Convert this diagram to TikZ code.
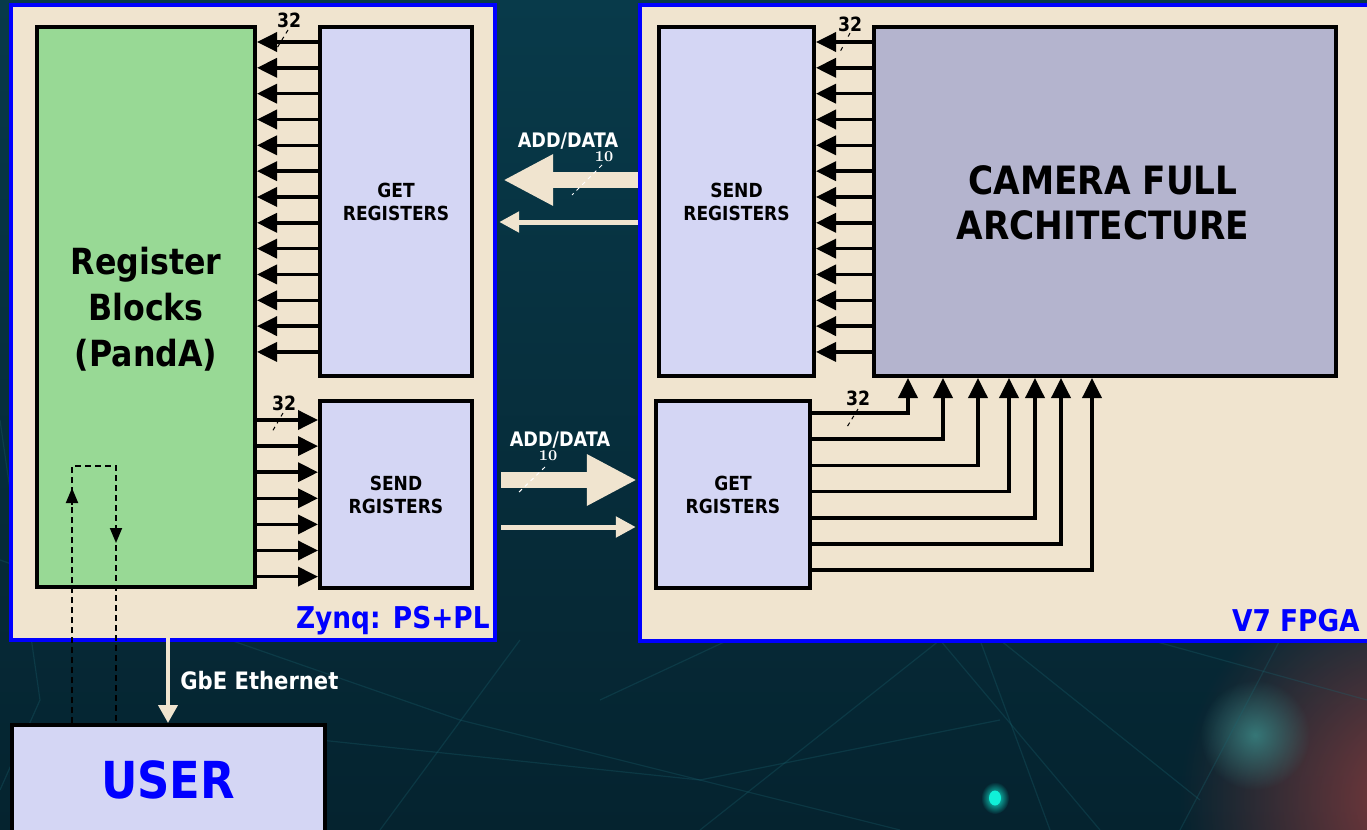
\documentclass[tikz,border=0pt]{standalone}
\usepackage{fontspec}
\newfontfamily\tah{DejaVu Sans}[FakeStretch=0.88]
\usetikzlibrary{arrows.meta,fit,fadings,calc}
\tikzfading[name=glow, inner color=transparent!0, outer color=transparent!100]
\definecolor{beige}{HTML}{F0E4CF}
\definecolor{pgreen}{HTML}{98D995}
\definecolor{lav}{HTML}{D4D6F4}
\definecolor{camc}{HTML}{B4B4CE}
\definecolor{pblue}{HTML}{0000FF}
\definecolor{bgA}{HTML}{083A4A}
\definecolor{bgB}{HTML}{05232F}
\definecolor{netc}{HTML}{1A6470}
\definecolor{redglow}{HTML}{A04040}
\definecolor{tealglow}{HTML}{3A8A88}
\definecolor{dotc}{HTML}{10F0D8}
\begin{document}
\begin{tikzpicture}[x=0.5pt,y=-0.5pt,
  outerbox/.style={draw=pblue, line width=2.2pt, fill=beige, inner sep=0pt},
  box/.style={draw=black, line width=2pt, inner sep=0pt},
  txt/.style={align=center, inner sep=0pt, font=\tah\bfseries},
  smalltxt/.style={txt, font=\tah\bfseries\fontsize{9.7}{11.5}\selectfont},
  blk/.style={line width=1.8pt, -{Triangle[length=10pt,width=9.5pt]}},
  bigarr/.style={draw=beige, line width=8pt, -{Triangle[length=25pt,width=24pt]}},
  smallarr/.style={draw=beige, line width=2.5pt, -{Triangle[length=10pt,width=10pt]}},
  dsh/.style={line width=0.9pt, dash pattern=on 3pt off 2pt},
  dtip/.style={-{Triangle[length=7.5pt,width=6pt]}},
  buslbl/.style={font=\tah\bfseries\fontsize{9.8}{10}\selectfont, text=black, inner sep=0pt},
  tenlbl/.style={font=\rmfamily\bfseries\fontsize{7.5}{8}\selectfont, text=white, inner sep=0pt},
  tick/.style={line width=0.5pt, dash pattern=on 2pt off 2pt},
  wlbl/.style={font=\tah\bfseries\fontsize{10}{11}\selectfont, text=white, inner sep=0pt},
  bluelbl/.style={font=\tah\bfseries\fontsize{15}{16}\selectfont, text=pblue, inner sep=0pt}
]
\useasboundingbox (0,0) rectangle (1367,830);
\clip (0,0) rectangle (1367,830);
% background
\shade[top color=bgA, bottom color=bgB] (0,0) rectangle (1367,830);
\fill[redglow, opacity=0.8, path fading=glow] (1420,800) circle (240);
\fill[tealglow, opacity=0.8, path fading=glow] (1255,735) circle (55);
\fill[dotc, path fading=glow] (995,798) ellipse (14 and 16);
\fill[dotc] (995,798) ellipse (6 and 7.5);
\begin{scope}[netc, opacity=0.3, line width=0.6pt]
  \draw (0,560) -- (460,720) -- (900,830);
  \draw (380,830) -- (520,640);
  \draw (600,700) -- (900,560) -- (1200,800);
  \draw (700,830) -- (940,640) -- (1100,830);
  \draw (980,640) -- (1050,830);
  \draw (1280,640) -- (1180,830);
  \draw (0,420) -- (40,700) -- (0,790);
  \draw (320,740) -- (700,780) -- (1000,720);
  \draw (1150,640) -- (1367,700);
\end{scope}
% outer boxes
\node[outerbox, fit={(11,5) (495,640)}] (zynq) {};
\node[outerbox, fit={(640,5) (1380,641)}] (v7) {};
% inner boxes
\node[box, fill=pgreen, fit={(37,27) (255,587)}] (green) {};
\node[box, fill=lav, fit={(320,27) (472,376)}] (getL) {};
\node[box, fill=lav, fit={(320,401) (472,588)}] (sendL) {};
\node[box, fill=lav, fit={(659,27) (814,376)}] (sendR) {};
\node[box, fill=camc, fit={(874,27) (1336,376)}] (cam) {};
\node[box, fill=lav, fit={(656,401) (810,588)}] (getR) {};
\node[box, fill=lav, fit={(12,725) (325,835)}] (user) {};
% box texts
\node[txt, font=\tah\bfseries\fontsize{18}{23}\selectfont] (greenT) at ($(green.center)+(0,2)$) {Register\\Blocks\\(PandA)};
\node[smalltxt] (getLT) at (getL.center) {GET\\REGISTERS};
\node[smalltxt] (sendLT) at (sendL.center) {SEND\\RGISTERS};
\node[smalltxt] (sendRT) at (sendR.center) {SEND\\REGISTERS};
\node[smalltxt] (getRT) at (getR.center) {GET\\RGISTERS};
\node[txt, font=\tah\bfseries\fontsize{19.5}{22.5}\selectfont] (camT) at ($(cam.center)+(-2,1)$) {CAMERA FULL\\ARCHITECTURE};
\node[txt, font=\tah\bfseries\fontsize{25.5}{26}\selectfont, text=pblue] (userT) at (168,780) {USER};
% labels
\node[bluelbl, anchor=east] (zlbl) at (490,621) {Zynq: PS+PL};
\node[bluelbl, anchor=east] (vlbl) at (1360,621) {V7 FPGA};
% top arrows
\foreach \i in {0,...,12}{
  \pgfmathsetmacro\yy{42+\i*25.83}
  \draw[blk] (getL.west |- 0,\yy) -- (green.east |- 0,\yy);
  \draw[blk] (cam.west |- 0,\yy) -- (sendR.east |- 0,\yy);
}
% bottom-left arrows
\foreach \i in {0,...,6}{
  \pgfmathsetmacro\yy{420+\i*26.1}
  \draw[blk] (green.east |- 0,\yy) -- (sendL.west |- 0,\yy);
}
% bottom-right bus
\foreach \yy/\xx in {413/908, 439.2/943, 465.4/978, 491.6/1009, 517.8/1035, 544/1061, 570.2/1092}{
  \draw[blk] (getR.east |- 0,\yy) -| (cam.south -| \xx,0);
}
% bus width marks
\node[buslbl] (b1) at (289,20) {32};
\draw[tick] (288,30) -- (277,48);
\node[buslbl] (b2) at (850,24) {32};
\draw[tick] (850,33) -- (840,52);
\node[buslbl] (b3) at (284,403) {32};
\draw[tick] (283,413) -- (272,432);
\node[buslbl] (b4) at (858,398) {32};
\draw[tick] (858,409) -- (847,427);
% ADD/DATA links
\draw[bigarr] (v7.west |- 0,180) -- ($(zynq.east |- 0,180)+(6,0)$);
\draw[smallarr] (v7.west |- 0,222) -- ($(zynq.east |- 0,222)+(2,0)$);
\draw[bigarr] ($(zynq.east |- 0,480)+(4,0)$) -- ($(v7.west |- 0,480)+(-1,0)$);
\draw[smallarr] ($(zynq.east |- 0,527)+(4,0)$) -- ($(v7.west |- 0,527)+(-2,0)$);
\node[wlbl] (ad1) at (568,141) {ADD/DATA};
\node[tenlbl] (t1) at (604,157) {10};
\draw[tick, white] (602,165) -- (572,195);
\node[wlbl] (ad2) at (560,440) {ADD/DATA};
\node[tenlbl] (t2) at (548,456) {10};
\draw[tick, white] (545,467) -- (517,494);
% GbE Ethernet
\draw[draw=beige, line width=2pt, -{Triangle[length=9pt,width=9.5pt]}] (green.south -| 168,0) -- (user.north -| 168,0);
\node[font=\tah\bfseries\fontsize{12}{13}\selectfont, text=white, anchor=west, inner sep=0pt] (gbe) at (180,681) {GbE Ethernet};
% dashed loop
\coordinate (dl) at (72,466);
\coordinate (dr) at (116,466);
\draw[dsh] (user.north -| dl) -- (dl) -- (dr) -- (user.north -| dr);
\draw[dtip, line width=0.9pt] (72,505) -- (72,488);
\draw[dtip, line width=0.9pt] (116,528) -- (116,543);
\end{tikzpicture}
\end{document}
